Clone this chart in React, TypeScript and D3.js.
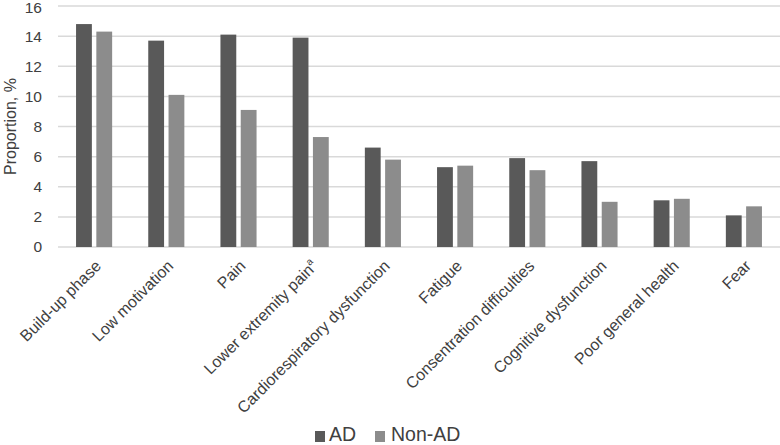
import React from "react";
import * as d3 from "d3";

const categories = [
  "Build-up phase",
  "Low motivation",
  "Pain",
  "Lower extremity pain",
  "Cardiorespiratory dysfunction",
  "Fatigue",
  "Consentration difficulties",
  "Cognitive dysfunction",
  "Poor general health",
  "Fear",
];
const superscripts = ["", "", "", "a", "", "", "", "", "", ""];
const seriesNames = ["AD", "Non-AD"];
const adValues = [14.8, 13.7, 14.1, 13.9, 6.6, 5.3, 5.9, 5.7, 3.1, 2.1];
const nonAdValues = [14.3, 10.1, 9.1, 7.3, 5.8, 5.4, 5.1, 3.0, 3.2, 2.7];
const yTicks = [0, 2, 4, 6, 8, 10, 12, 14, 16];
const colors = ["#595959", "#8c8c8c"];

const W = 780;
const H = 445;
const left = 58;
const right = 780;
const top = 6;
const bottom = 247;
const font = "'Liberation Sans', Arial, sans-serif";

export default function App() {
  const x0 = d3
    .scaleBand<string>()
    .domain(categories)
    .range([left, right])
    .paddingInner(0.5)
    .paddingOuter(0.25);
  const x1 = d3
    .scaleBand<string>()
    .domain(seriesNames)
    .range([0, x0.bandwidth()])
    .paddingInner(0.22);
  const y = d3.scaleLinear().domain([0, 16]).range([bottom, top]);
  const series = [adValues, nonAdValues];

  return (
    <svg
      width={W}
      height={H}
      style={{ position: "absolute", left: 0, top: 0, background: "#fff" }}
      fontFamily={font}
    >
      {yTicks.map((t) => (
        <g key={t}>
          <line
            x1={left}
            x2={right}
            y1={y(t)}
            y2={y(t)}
            stroke="#d9d9d9"
            strokeWidth={1.5}
          />
          <text
            x={42}
            y={Math.max(y(t), 8)}
            dy="0.35em"
            textAnchor="end"
            fontSize={15.5}
            fill="#404040"
          >
            {t}
          </text>
        </g>
      ))}
      {categories.map((c, i) => (
        <g key={c}>
          {seriesNames.map((s, j) => (
            <rect
              key={s}
              x={(x0(c) ?? 0) + (x1(s) ?? 0)}
              y={y(series[j][i])}
              width={x1.bandwidth()}
              height={y(0) - y(series[j][i])}
              fill={colors[j]}
            />
          ))}
        </g>
      ))}
      {categories.map((c, i) => {
        const cx = (x0(c) ?? 0) + x0.bandwidth() / 2;
        return (
          <text
            key={c}
            transform={`translate(${cx + 8},${267}) rotate(-45)`}
            textAnchor="end"
            fontSize={16}
            fill="#404040"
          >
            {c}
            {superscripts[i] && (
              <tspan fontSize={10} dy={-7}>
                {superscripts[i]}
              </tspan>
            )}
          </text>
        );
      })}
      <text
        transform={`translate(16,${(top + bottom) / 2}) rotate(-90)`}
        textAnchor="middle"
        fontSize={16}
        fill="#404040"
      >
        Proportion, %
      </text>
      <g>
        <rect x={315} y={431} width={10} height={11} fill={colors[0]} />
        <text x={329} y={441} fontSize={19.5} fill="#404040">
          {seriesNames[0]}
        </text>
        <rect x={375} y={431} width={10} height={11} fill={colors[1]} />
        <text x={391} y={441} fontSize={19.5} fill="#404040">
          {seriesNames[1]}
        </text>
      </g>
    </svg>
  );
}
